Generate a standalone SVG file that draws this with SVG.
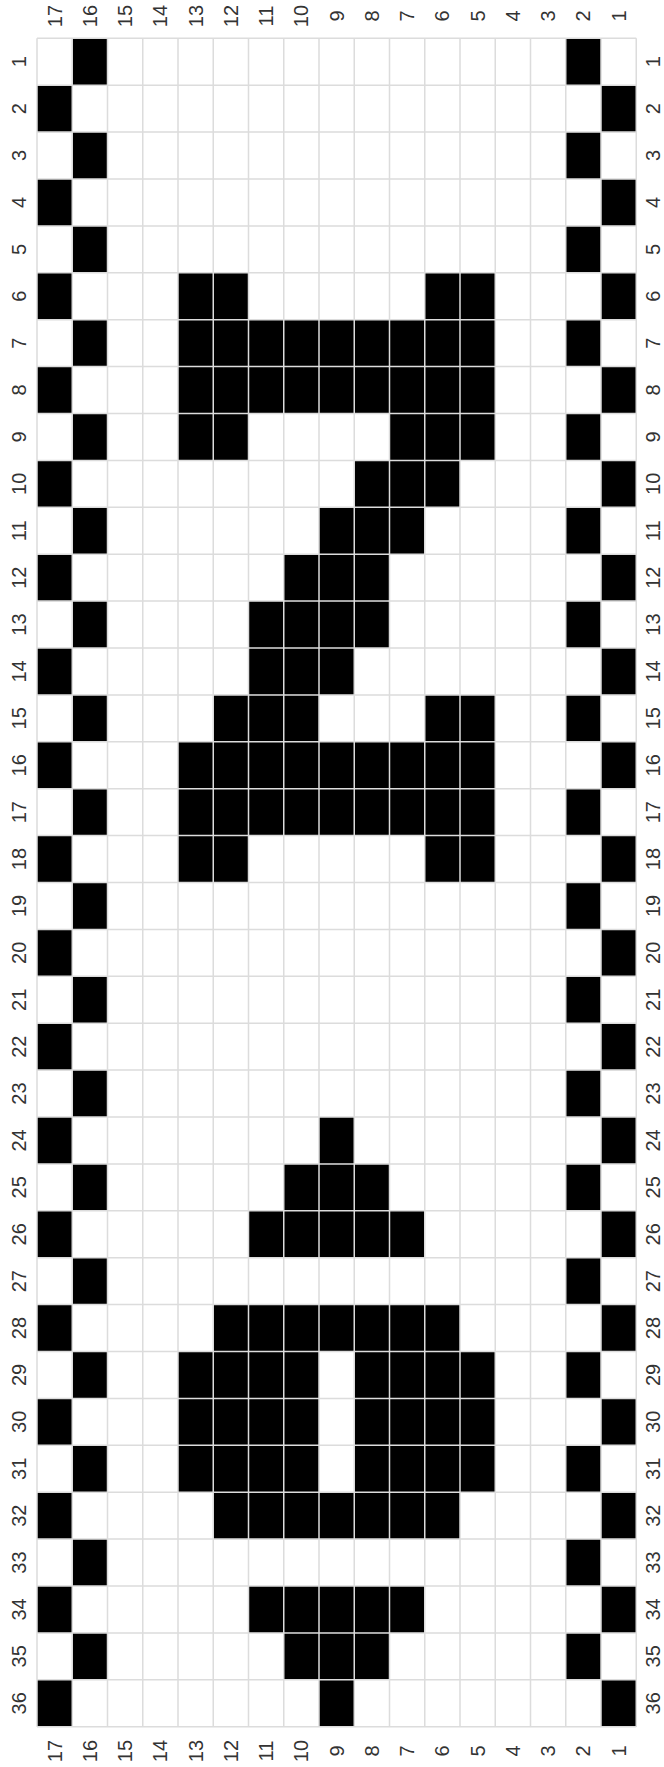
<svg xmlns="http://www.w3.org/2000/svg" width="664" height="1767" viewBox="0 0 664 1767">
<style>
.b{fill:#000}
.g{fill:none;stroke:#dcdcdc;stroke-width:1.5}
.l{font-family:"Liberation Sans",Arial,Helvetica,sans-serif;font-size:20px;fill:#333;text-anchor:middle;dominant-baseline:central}
</style>
<rect x="0" y="0" width="664" height="1767" fill="#fff"/>
<g id="border-cells">
<rect class="b" x="72.25" y="38.3" width="35.25" height="46.9"/>
<rect class="b" x="72.25" y="132.1" width="35.25" height="46.9"/>
<rect class="b" x="72.25" y="225.9" width="35.25" height="46.9"/>
<rect class="b" x="72.25" y="319.7" width="35.25" height="46.9"/>
<rect class="b" x="72.25" y="413.5" width="35.25" height="46.9"/>
<rect class="b" x="72.25" y="507.3" width="35.25" height="46.9"/>
<rect class="b" x="72.25" y="601.1" width="35.25" height="46.9"/>
<rect class="b" x="72.25" y="694.9" width="35.25" height="46.9"/>
<rect class="b" x="72.25" y="788.7" width="35.25" height="46.9"/>
<rect class="b" x="72.25" y="882.5" width="35.25" height="46.9"/>
<rect class="b" x="72.25" y="976.3" width="35.25" height="46.9"/>
<rect class="b" x="72.25" y="1070.1" width="35.25" height="46.9"/>
<rect class="b" x="72.25" y="1163.9" width="35.25" height="46.9"/>
<rect class="b" x="72.25" y="1257.7" width="35.25" height="46.9"/>
<rect class="b" x="72.25" y="1351.5" width="35.25" height="46.9"/>
<rect class="b" x="72.25" y="1445.3" width="35.25" height="46.9"/>
<rect class="b" x="72.25" y="1539.1" width="35.25" height="46.9"/>
<rect class="b" x="72.25" y="1632.9" width="35.25" height="46.9"/>
<rect class="b" x="37" y="85.2" width="35.25" height="46.9"/>
<rect class="b" x="37" y="179" width="35.25" height="46.9"/>
<rect class="b" x="37" y="272.8" width="35.25" height="46.9"/>
<rect class="b" x="37" y="366.6" width="35.25" height="46.9"/>
<rect class="b" x="37" y="460.4" width="35.25" height="46.9"/>
<rect class="b" x="37" y="554.2" width="35.25" height="46.9"/>
<rect class="b" x="37" y="648" width="35.25" height="46.9"/>
<rect class="b" x="37" y="741.8" width="35.25" height="46.9"/>
<rect class="b" x="37" y="835.6" width="35.25" height="46.9"/>
<rect class="b" x="37" y="929.4" width="35.25" height="46.9"/>
<rect class="b" x="37" y="1023.2" width="35.25" height="46.9"/>
<rect class="b" x="37" y="1117" width="35.25" height="46.9"/>
<rect class="b" x="37" y="1210.8" width="35.25" height="46.9"/>
<rect class="b" x="37" y="1304.6" width="35.25" height="46.9"/>
<rect class="b" x="37" y="1398.4" width="35.25" height="46.9"/>
<rect class="b" x="37" y="1492.2" width="35.25" height="46.9"/>
<rect class="b" x="37" y="1586" width="35.25" height="46.9"/>
<rect class="b" x="37" y="1679.8" width="35.25" height="46.9"/>
<rect class="b" x="565.75" y="38.3" width="35.25" height="46.9"/>
<rect class="b" x="565.75" y="132.1" width="35.25" height="46.9"/>
<rect class="b" x="565.75" y="225.9" width="35.25" height="46.9"/>
<rect class="b" x="565.75" y="319.7" width="35.25" height="46.9"/>
<rect class="b" x="565.75" y="413.5" width="35.25" height="46.9"/>
<rect class="b" x="565.75" y="507.3" width="35.25" height="46.9"/>
<rect class="b" x="565.75" y="601.1" width="35.25" height="46.9"/>
<rect class="b" x="565.75" y="694.9" width="35.25" height="46.9"/>
<rect class="b" x="565.75" y="788.7" width="35.25" height="46.9"/>
<rect class="b" x="565.75" y="882.5" width="35.25" height="46.9"/>
<rect class="b" x="565.75" y="976.3" width="35.25" height="46.9"/>
<rect class="b" x="565.75" y="1070.1" width="35.25" height="46.9"/>
<rect class="b" x="565.75" y="1163.9" width="35.25" height="46.9"/>
<rect class="b" x="565.75" y="1257.7" width="35.25" height="46.9"/>
<rect class="b" x="565.75" y="1351.5" width="35.25" height="46.9"/>
<rect class="b" x="565.75" y="1445.3" width="35.25" height="46.9"/>
<rect class="b" x="565.75" y="1539.1" width="35.25" height="46.9"/>
<rect class="b" x="565.75" y="1632.9" width="35.25" height="46.9"/>
<rect class="b" x="601" y="85.2" width="35.25" height="46.9"/>
<rect class="b" x="601" y="179" width="35.25" height="46.9"/>
<rect class="b" x="601" y="272.8" width="35.25" height="46.9"/>
<rect class="b" x="601" y="366.6" width="35.25" height="46.9"/>
<rect class="b" x="601" y="460.4" width="35.25" height="46.9"/>
<rect class="b" x="601" y="554.2" width="35.25" height="46.9"/>
<rect class="b" x="601" y="648" width="35.25" height="46.9"/>
<rect class="b" x="601" y="741.8" width="35.25" height="46.9"/>
<rect class="b" x="601" y="835.6" width="35.25" height="46.9"/>
<rect class="b" x="601" y="929.4" width="35.25" height="46.9"/>
<rect class="b" x="601" y="1023.2" width="35.25" height="46.9"/>
<rect class="b" x="601" y="1117" width="35.25" height="46.9"/>
<rect class="b" x="601" y="1210.8" width="35.25" height="46.9"/>
<rect class="b" x="601" y="1304.6" width="35.25" height="46.9"/>
<rect class="b" x="601" y="1398.4" width="35.25" height="46.9"/>
<rect class="b" x="601" y="1492.2" width="35.25" height="46.9"/>
<rect class="b" x="601" y="1586" width="35.25" height="46.9"/>
<rect class="b" x="601" y="1679.8" width="35.25" height="46.9"/>
</g>
<g id="z-motif">
<rect class="b" x="178" y="272.8" width="70.5" height="46.9"/>
<rect class="b" x="424.75" y="272.8" width="70.5" height="46.9"/>
<rect class="b" x="178" y="319.7" width="317.25" height="93.8"/>
<rect class="b" x="178" y="413.5" width="70.5" height="46.9"/>
<rect class="b" x="389.5" y="413.5" width="105.75" height="46.9"/>
<rect class="b" x="354.25" y="460.4" width="105.75" height="46.9"/>
<rect class="b" x="319" y="507.3" width="105.75" height="46.9"/>
<rect class="b" x="283.75" y="554.2" width="105.75" height="46.9"/>
<rect class="b" x="248.5" y="601.1" width="141" height="46.9"/>
<rect class="b" x="248.5" y="648" width="105.75" height="46.9"/>
<rect class="b" x="213.25" y="694.9" width="105.75" height="46.9"/>
<rect class="b" x="424.75" y="694.9" width="70.5" height="46.9"/>
<rect class="b" x="178" y="741.8" width="317.25" height="93.8"/>
<rect class="b" x="178" y="835.6" width="70.5" height="46.9"/>
<rect class="b" x="424.75" y="835.6" width="70.5" height="46.9"/>
</g>
<g id="diamond-motif">
<rect class="b" x="319" y="1117" width="35.25" height="46.9"/>
<rect class="b" x="283.75" y="1163.9" width="105.75" height="46.9"/>
<rect class="b" x="248.5" y="1210.8" width="176.25" height="46.9"/>
<rect class="b" x="213.25" y="1304.6" width="246.75" height="46.9"/>
<rect class="b" x="178" y="1351.5" width="141" height="140.7"/>
<rect class="b" x="354.25" y="1351.5" width="141" height="140.7"/>
<rect class="b" x="213.25" y="1492.2" width="246.75" height="46.9"/>
<rect class="b" x="248.5" y="1586" width="176.25" height="46.9"/>
<rect class="b" x="283.75" y="1632.9" width="105.75" height="46.9"/>
<rect class="b" x="319" y="1679.8" width="35.25" height="46.9"/>
</g>
<g id="grid">
<path class="g" d="M37 38.3V1726.7M72.25 38.3V1726.7M107.5 38.3V1726.7M142.75 38.3V1726.7M178 38.3V1726.7M213.25 38.3V1726.7M248.5 38.3V1726.7M283.75 38.3V1726.7M319 38.3V1726.7M354.25 38.3V1726.7M389.5 38.3V1726.7M424.75 38.3V1726.7M460 38.3V1726.7M495.25 38.3V1726.7M530.5 38.3V1726.7M565.75 38.3V1726.7M601 38.3V1726.7M636.25 38.3V1726.7"/>
<path class="g" d="M37 38.3H636.25M37 85.2H636.25M37 132.1H636.25M37 179H636.25M37 225.9H636.25M37 272.8H636.25M37 319.7H636.25M37 366.6H636.25M37 413.5H636.25M37 460.4H636.25M37 507.3H636.25M37 554.2H636.25M37 601.1H636.25M37 648H636.25M37 694.9H636.25M37 741.8H636.25M37 788.7H636.25M37 835.6H636.25M37 882.5H636.25M37 929.4H636.25M37 976.3H636.25M37 1023.2H636.25M37 1070.1H636.25M37 1117H636.25M37 1163.9H636.25M37 1210.8H636.25M37 1257.7H636.25M37 1304.6H636.25M37 1351.5H636.25M37 1398.4H636.25M37 1445.3H636.25M37 1492.2H636.25M37 1539.1H636.25M37 1586H636.25M37 1632.9H636.25M37 1679.8H636.25M37 1726.7H636.25"/>
</g>
<g id="col-labels-top">
<text class="l" transform="translate(54.625,16) rotate(-90)">17</text>
<text class="l" transform="translate(89.875,16) rotate(-90)">16</text>
<text class="l" transform="translate(125.125,16) rotate(-90)">15</text>
<text class="l" transform="translate(160.375,16) rotate(-90)">14</text>
<text class="l" transform="translate(195.625,16) rotate(-90)">13</text>
<text class="l" transform="translate(230.875,16) rotate(-90)">12</text>
<text class="l" transform="translate(266.125,16) rotate(-90)">11</text>
<text class="l" transform="translate(301.375,16) rotate(-90)">10</text>
<text class="l" transform="translate(336.625,16) rotate(-90)">9</text>
<text class="l" transform="translate(371.875,16) rotate(-90)">8</text>
<text class="l" transform="translate(407.125,16) rotate(-90)">7</text>
<text class="l" transform="translate(442.375,16) rotate(-90)">6</text>
<text class="l" transform="translate(477.625,16) rotate(-90)">5</text>
<text class="l" transform="translate(512.875,16) rotate(-90)">4</text>
<text class="l" transform="translate(548.125,16) rotate(-90)">3</text>
<text class="l" transform="translate(583.375,16) rotate(-90)">2</text>
<text class="l" transform="translate(618.625,16) rotate(-90)">1</text>
</g>
<g id="col-labels-bottom">
<text class="l" transform="translate(54.625,1751) rotate(-90)">17</text>
<text class="l" transform="translate(89.875,1751) rotate(-90)">16</text>
<text class="l" transform="translate(125.125,1751) rotate(-90)">15</text>
<text class="l" transform="translate(160.375,1751) rotate(-90)">14</text>
<text class="l" transform="translate(195.625,1751) rotate(-90)">13</text>
<text class="l" transform="translate(230.875,1751) rotate(-90)">12</text>
<text class="l" transform="translate(266.125,1751) rotate(-90)">11</text>
<text class="l" transform="translate(301.375,1751) rotate(-90)">10</text>
<text class="l" transform="translate(336.625,1751) rotate(-90)">9</text>
<text class="l" transform="translate(371.875,1751) rotate(-90)">8</text>
<text class="l" transform="translate(407.125,1751) rotate(-90)">7</text>
<text class="l" transform="translate(442.375,1751) rotate(-90)">6</text>
<text class="l" transform="translate(477.625,1751) rotate(-90)">5</text>
<text class="l" transform="translate(512.875,1751) rotate(-90)">4</text>
<text class="l" transform="translate(548.125,1751) rotate(-90)">3</text>
<text class="l" transform="translate(583.375,1751) rotate(-90)">2</text>
<text class="l" transform="translate(618.625,1751) rotate(-90)">1</text>
</g>
<g id="row-labels-left">
<text class="l" transform="translate(19,61.75) rotate(-90)">1</text>
<text class="l" transform="translate(19,108.65) rotate(-90)">2</text>
<text class="l" transform="translate(19,155.55) rotate(-90)">3</text>
<text class="l" transform="translate(19,202.45) rotate(-90)">4</text>
<text class="l" transform="translate(19,249.35) rotate(-90)">5</text>
<text class="l" transform="translate(19,296.25) rotate(-90)">6</text>
<text class="l" transform="translate(19,343.15) rotate(-90)">7</text>
<text class="l" transform="translate(19,390.05) rotate(-90)">8</text>
<text class="l" transform="translate(19,436.95) rotate(-90)">9</text>
<text class="l" transform="translate(19,483.85) rotate(-90)">10</text>
<text class="l" transform="translate(19,530.75) rotate(-90)">11</text>
<text class="l" transform="translate(19,577.65) rotate(-90)">12</text>
<text class="l" transform="translate(19,624.55) rotate(-90)">13</text>
<text class="l" transform="translate(19,671.45) rotate(-90)">14</text>
<text class="l" transform="translate(19,718.35) rotate(-90)">15</text>
<text class="l" transform="translate(19,765.25) rotate(-90)">16</text>
<text class="l" transform="translate(19,812.15) rotate(-90)">17</text>
<text class="l" transform="translate(19,859.05) rotate(-90)">18</text>
<text class="l" transform="translate(19,905.95) rotate(-90)">19</text>
<text class="l" transform="translate(19,952.85) rotate(-90)">20</text>
<text class="l" transform="translate(19,999.75) rotate(-90)">21</text>
<text class="l" transform="translate(19,1046.65) rotate(-90)">22</text>
<text class="l" transform="translate(19,1093.55) rotate(-90)">23</text>
<text class="l" transform="translate(19,1140.45) rotate(-90)">24</text>
<text class="l" transform="translate(19,1187.35) rotate(-90)">25</text>
<text class="l" transform="translate(19,1234.25) rotate(-90)">26</text>
<text class="l" transform="translate(19,1281.15) rotate(-90)">27</text>
<text class="l" transform="translate(19,1328.05) rotate(-90)">28</text>
<text class="l" transform="translate(19,1374.95) rotate(-90)">29</text>
<text class="l" transform="translate(19,1421.85) rotate(-90)">30</text>
<text class="l" transform="translate(19,1468.75) rotate(-90)">31</text>
<text class="l" transform="translate(19,1515.65) rotate(-90)">32</text>
<text class="l" transform="translate(19,1562.55) rotate(-90)">33</text>
<text class="l" transform="translate(19,1609.45) rotate(-90)">34</text>
<text class="l" transform="translate(19,1656.35) rotate(-90)">35</text>
<text class="l" transform="translate(19,1703.25) rotate(-90)">36</text>
</g>
<g id="row-labels-right">
<text class="l" transform="translate(653,61.75) rotate(-90)">1</text>
<text class="l" transform="translate(653,108.65) rotate(-90)">2</text>
<text class="l" transform="translate(653,155.55) rotate(-90)">3</text>
<text class="l" transform="translate(653,202.45) rotate(-90)">4</text>
<text class="l" transform="translate(653,249.35) rotate(-90)">5</text>
<text class="l" transform="translate(653,296.25) rotate(-90)">6</text>
<text class="l" transform="translate(653,343.15) rotate(-90)">7</text>
<text class="l" transform="translate(653,390.05) rotate(-90)">8</text>
<text class="l" transform="translate(653,436.95) rotate(-90)">9</text>
<text class="l" transform="translate(653,483.85) rotate(-90)">10</text>
<text class="l" transform="translate(653,530.75) rotate(-90)">11</text>
<text class="l" transform="translate(653,577.65) rotate(-90)">12</text>
<text class="l" transform="translate(653,624.55) rotate(-90)">13</text>
<text class="l" transform="translate(653,671.45) rotate(-90)">14</text>
<text class="l" transform="translate(653,718.35) rotate(-90)">15</text>
<text class="l" transform="translate(653,765.25) rotate(-90)">16</text>
<text class="l" transform="translate(653,812.15) rotate(-90)">17</text>
<text class="l" transform="translate(653,859.05) rotate(-90)">18</text>
<text class="l" transform="translate(653,905.95) rotate(-90)">19</text>
<text class="l" transform="translate(653,952.85) rotate(-90)">20</text>
<text class="l" transform="translate(653,999.75) rotate(-90)">21</text>
<text class="l" transform="translate(653,1046.65) rotate(-90)">22</text>
<text class="l" transform="translate(653,1093.55) rotate(-90)">23</text>
<text class="l" transform="translate(653,1140.45) rotate(-90)">24</text>
<text class="l" transform="translate(653,1187.35) rotate(-90)">25</text>
<text class="l" transform="translate(653,1234.25) rotate(-90)">26</text>
<text class="l" transform="translate(653,1281.15) rotate(-90)">27</text>
<text class="l" transform="translate(653,1328.05) rotate(-90)">28</text>
<text class="l" transform="translate(653,1374.95) rotate(-90)">29</text>
<text class="l" transform="translate(653,1421.85) rotate(-90)">30</text>
<text class="l" transform="translate(653,1468.75) rotate(-90)">31</text>
<text class="l" transform="translate(653,1515.65) rotate(-90)">32</text>
<text class="l" transform="translate(653,1562.55) rotate(-90)">33</text>
<text class="l" transform="translate(653,1609.45) rotate(-90)">34</text>
<text class="l" transform="translate(653,1656.35) rotate(-90)">35</text>
<text class="l" transform="translate(653,1703.25) rotate(-90)">36</text>
</g>
</svg>
